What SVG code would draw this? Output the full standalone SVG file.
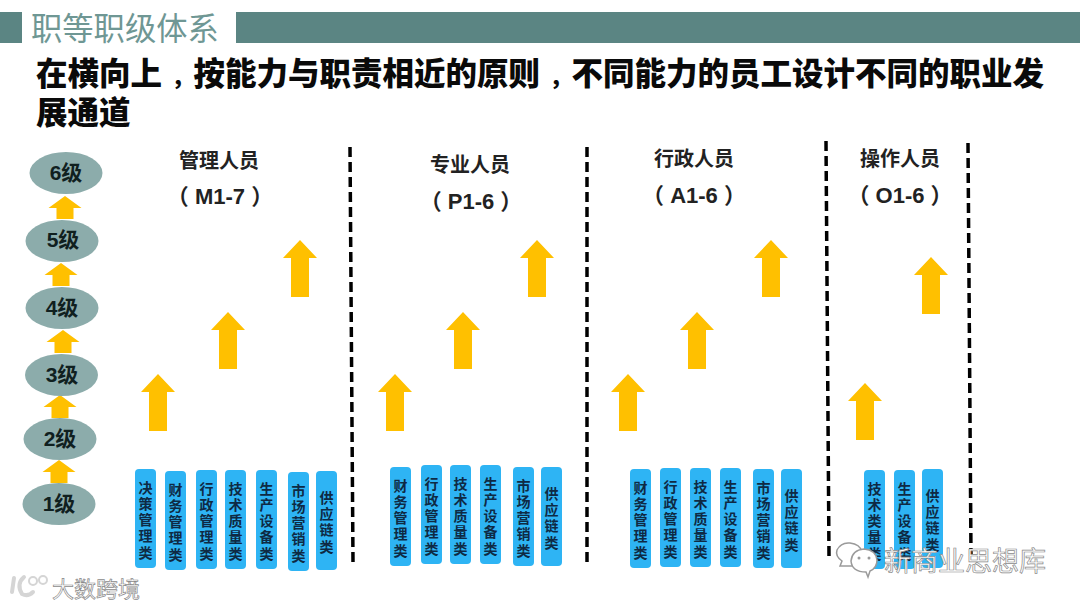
<svg xmlns="http://www.w3.org/2000/svg" width="1080" height="608" viewBox="0 0 1080 608">
<style>
text{font-family:"Liberation Sans","Noto Sans CJK SC",sans-serif}
.bar{fill:#5b8583}
.t{font-family:"Noto Sans CJK SC",sans-serif;font-size:31.300px;fill:#6f9794}
.h{font-family:"Noto Sans CJK SC",sans-serif;font-size:31.500px;font-weight:900;fill:#0a0a0a}
.lv{fill:#8cacab}
.lvt{font-size:21px;font-weight:700;fill:#10201f;text-anchor:middle}
.ar{fill:#ffc000}
.g{font-family:"Noto Sans CJK SC",sans-serif;font-size:20px;font-weight:700;fill:#222;text-anchor:middle}
.c{font-size:22px;font-weight:700;fill:#222;text-anchor:middle}
.b{fill:#2eb4f4}
.v{font-family:"Noto Sans CJK SC",sans-serif;font-size:14px;font-weight:700;fill:#0e2a44;writing-mode:vertical-rl;text-anchor:middle;letter-spacing:2.300px}
.d{stroke:#000;stroke-width:3.500;stroke-dasharray:10 5;fill:none}
.wm{font-family:"Noto Sans CJK SC",sans-serif;fill:#fff;stroke:#8a8a8a;stroke-width:.7}
.ws{fill:#fff;stroke:#9a9a9a;stroke-width:1.500}
.wl{fill:none;stroke:#d5d5d5;stroke-width:4;stroke-linecap:round}
.cm{font-size:22px}
</style>
<defs>
<path id="big" d="M0 0L17 18H9V57H-9V18H-17Z"/>
<path id="small" d="M0 0L16.500 12H8.500V23H-8.500V12H-16.500Z"/>
</defs>
<rect width="1080" height="608" fill="#fff"/>
<g id="title">
<rect class="bar" x="0" y="12" width="22" height="31"/>
<rect class="bar" x="236" y="12" width="844" height="31"/>
<text class="t" x="31" y="40">职等职级体系</text>
<text class="h" x="36" y="85">在横向上<tspan class="cm" dx="9.500">，</tspan>按能力与职责相近的原则<tspan class="cm" dx="9.500">，</tspan>不同能力的员工设计不同的职业发</text>
<text class="h" x="36" y="124">展通道</text>
</g>
<g id="connectors">
<line class="d" x1="350" y1="147" x2="353" y2="562"/>
<line class="d" x1="587" y1="147" x2="587" y2="562"/>
<line class="d" x1="826" y1="141" x2="829" y2="556"/>
<line class="d" x1="968" y1="143" x2="971" y2="556"/>
<use class="ar" href="#small" x="65" y="196"/>
<use class="ar" href="#small" x="61" y="263"/>
<use class="ar" href="#small" x="63" y="330"/>
<use class="ar" href="#small" x="60" y="395"/>
<use class="ar" href="#small" x="59" y="460"/>
<use class="ar" href="#big" x="158" y="374"/>
<use class="ar" href="#big" x="228" y="312"/>
<use class="ar" href="#big" x="300" y="240"/>
<use class="ar" href="#big" x="395" y="374"/>
<use class="ar" href="#big" x="463" y="312"/>
<use class="ar" href="#big" x="537" y="240"/>
<use class="ar" href="#big" x="628" y="374"/>
<use class="ar" href="#big" x="697" y="312"/>
<use class="ar" href="#big" x="771" y="240"/>
<use class="ar" href="#big" x="865" y="383"/>
<use class="ar" href="#big" x="931" y="257"/>
</g>
<g id="level-6"><ellipse class="lv" cx="66" cy="173" rx="36.500" ry="21"/><text class="lvt" x="66" y="180">6级</text></g>
<g id="level-5"><ellipse class="lv" cx="62" cy="241" rx="36.500" ry="21"/><text class="lvt" x="63" y="247">5级</text></g>
<g id="level-4"><ellipse class="lv" cx="62" cy="308" rx="36.500" ry="21"/><text class="lvt" x="62" y="315">4级</text></g>
<g id="level-3"><ellipse class="lv" cx="61.500" cy="375" rx="36.500" ry="21"/><text class="lvt" x="62" y="382">3级</text></g>
<g id="level-2"><ellipse class="lv" cx="60" cy="439" rx="36.500" ry="21"/><text class="lvt" x="60" y="446">2级</text></g>
<g id="level-1"><ellipse class="lv" cx="59" cy="504" rx="36.500" ry="21"/><text class="lvt" x="59" y="511">1级</text></g>
<g id="head-m"><text class="g" x="219" y="168">管理人员</text><text class="c" x="220" y="204">（ M1-7 ）</text></g>
<g id="head-p"><text class="g" x="470" y="172">专业人员</text><text class="c" x="471" y="209">（ P1-6 ）</text></g>
<g id="head-a"><text class="g" x="694" y="166">行政人员</text><text class="c" x="694" y="203">（ A1-6 ）</text></g>
<g id="head-o"><text class="g" x="900" y="166">操作人员</text><text class="c" x="900" y="203">（ O1-6 ）</text></g>
<g id="m1"><rect class="b" x="135" y="469" width="21" height="99" rx="4"/><text class="v" x="145.500" y="521">决策管理类</text></g>
<g id="m2"><rect class="b" x="165" y="471" width="21" height="99" rx="4"/><text class="v" x="175.500" y="523">财务管理类</text></g>
<g id="m3"><rect class="b" x="196" y="470" width="21" height="99" rx="4"/><text class="v" x="206.500" y="522">行政管理类</text></g>
<g id="m4"><rect class="b" x="225" y="470" width="21" height="99" rx="4"/><text class="v" x="235.500" y="522">技术质量类</text></g>
<g id="m5"><rect class="b" x="256" y="470" width="21" height="99" rx="4"/><text class="v" x="266.500" y="522">生产设备类</text></g>
<g id="m6"><rect class="b" x="288" y="472" width="21" height="99" rx="4"/><text class="v" x="298.500" y="524">市场营销类</text></g>
<g id="m7"><rect class="b" x="316" y="471" width="21" height="99" rx="4"/><text class="v" x="326.500" y="523">供应链类</text></g>
<g id="p1"><rect class="b" x="390" y="467" width="21" height="99" rx="4"/><text class="v" x="400.500" y="519">财务管理类</text></g>
<g id="p2"><rect class="b" x="421" y="465" width="21" height="99" rx="4"/><text class="v" x="431.500" y="517">行政管理类</text></g>
<g id="p3"><rect class="b" x="450" y="465" width="21" height="99" rx="4"/><text class="v" x="460.500" y="517">技术质量类</text></g>
<g id="p4"><rect class="b" x="480" y="465" width="21" height="99" rx="4"/><text class="v" x="490.500" y="517">生产设备类</text></g>
<g id="p5"><rect class="b" x="513" y="467" width="21" height="99" rx="4"/><text class="v" x="523.500" y="519">市场营销类</text></g>
<g id="p6"><rect class="b" x="541" y="467" width="21" height="99" rx="4"/><text class="v" x="551.500" y="519">供应链类</text></g>
<g id="a1"><rect class="b" x="630" y="469" width="21" height="99" rx="4"/><text class="v" x="640.500" y="521">财务管理类</text></g>
<g id="a2"><rect class="b" x="660" y="468" width="21" height="99" rx="4"/><text class="v" x="670.500" y="520">行政管理类</text></g>
<g id="a3"><rect class="b" x="690" y="468" width="21" height="99" rx="4"/><text class="v" x="700.500" y="520">技术质量类</text></g>
<g id="a4"><rect class="b" x="720" y="468" width="21" height="99" rx="4"/><text class="v" x="730.500" y="520">生产设备类</text></g>
<g id="a5"><rect class="b" x="753" y="469" width="21" height="99" rx="4"/><text class="v" x="763.500" y="521">市场营销类</text></g>
<g id="a6"><rect class="b" x="781" y="469" width="21" height="99" rx="4"/><text class="v" x="791.500" y="521">供应链类</text></g>
<g id="o1"><rect class="b" x="864" y="470" width="21" height="99" rx="4"/><text class="v" x="874.500" y="522">技术类量类</text></g>
<g id="o2"><rect class="b" x="894" y="470" width="21" height="99" rx="4"/><text class="v" x="904.500" y="522">生产设备类</text></g>
<g id="o3"><rect class="b" x="922" y="469" width="21" height="99" rx="4"/><text class="v" x="932.500" y="521">供应链类</text></g>
<g id="watermarks">
<path class="ws" d="M840 566L842 561Q835 556 837 550Q841 542 850 543Q860 544 862 552L858 566Z"/>
<path class="ws" d="M868 577L866 572Q852 572 851 561Q852 550 864 549Q876 550 877 560Q877 568 870 571Z"/>
<circle cx="859" cy="558" r="1.500" fill="#9a9a9a"/><circle cx="869" cy="558" r="1.500" fill="#9a9a9a"/>
<text class="wm" x="884" y="571" font-size="27">新商业思想库</text>
<path class="wl" d="M14 578L12 592M24 577Q16 584 22 594Q28 597 33 592"/>
<circle cx="33" cy="581" r="4" fill="none" stroke="#d5d5d5" stroke-width="2"/>
<circle cx="43" cy="580" r="4" fill="none" stroke="#d5d5d5" stroke-width="2"/>
<text class="wm" x="52" y="597" font-size="22">大数跨境</text>
</g>
</svg>
